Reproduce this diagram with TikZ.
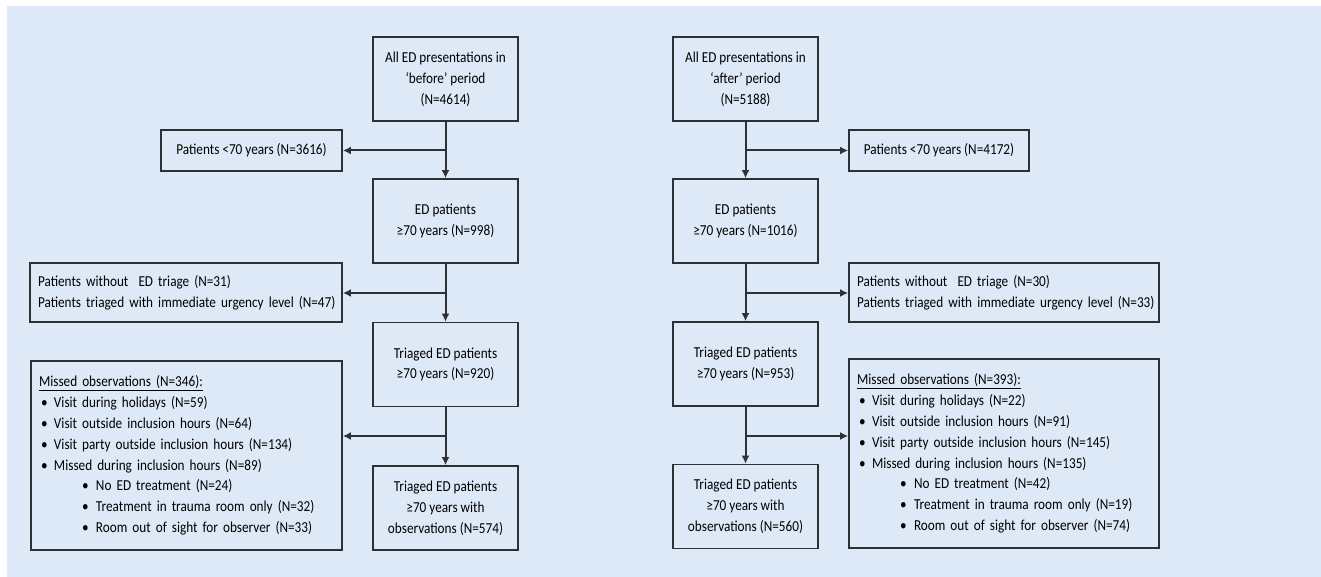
\documentclass[tikz,border=0pt]{standalone}
\usepackage{fontspec}
\setmainfont{Carlito}[FakeStretch=0.87]
\usetikzlibrary{arrows.meta}
\definecolor{bgblue}{HTML}{DDE9F6}
\definecolor{edge}{HTML}{2E3134}
\tikzset{
  box/.style={draw=edge, line width=1.8pt, inner sep=0pt, align=center, text=black, font=\fontsize{15.2}{20.8}\selectfont},
  mainbox/.style={box, minimum width=145pt, minimum height=84pt},
  sidebox/.style={box, align=left, inner xsep=8pt, inner ysep=0pt},
  conn/.style={draw=edge, line width=2pt, -{Latex[length=8pt,width=8pt]}},
}
\newcommand{\bl}{\makebox[15pt][l]{\hspace{2pt}•}}
\newcommand{\sbl}{\makebox[57pt][l]{\hspace{43pt}•}}
\begin{document}
\begin{tikzpicture}[x=1pt,y=-1pt]
\useasboundingbox (0,0) rectangle (1321,577);
\fill[bgblue] (7,6) rectangle (1321,577);

% left column
\node[mainbox] (a1) at (445.5,79) {All ED presentations in\\‘before’ period\\(N=4614)};
\node[mainbox] (a2) at (445.5,221) {ED patients\\≥70 years (N=998)};
\node[mainbox] (a3) at (445.5,364.5) {Triaged ED patients\\≥70 years (N=920)};
\node[mainbox] (a4) at (445.5,508) {Triaged ED patients\\≥70 years with\\observations (N=574)};

\node[box, minimum width=181pt, minimum height=41pt] (l1) at (251.5,150.5) {Patients <70 years (N=3616)};
\node[sidebox, text width=296pt, minimum height=59pt] (l2) at (186,292.5) {\mbox{Patients without~ ED triage (N=31)}\\\mbox{Patients triaged with immediate urgency level (N=47)}};
\node[sidebox, text width=295pt, minimum height=189pt] (l3) at (186.5,455.5) {\underline{Missed observations (N=346):}\\
\bl Visit during holidays (N=59)\\
\bl Visit outside inclusion hours (N=64)\\
\bl Visit party outside inclusion hours (N=134)\\
\bl Missed during inclusion hours (N=89)\\
\sbl No ED treatment (N=24)\\
\sbl Treatment in trauma room only (N=32)\\
\sbl Room out of sight for observer (N=33)};

% right column
\node[mainbox] (b1) at (745.5,79) {All ED presentations in\\‘after’ period\\(N=5188)};
\node[mainbox] (b2) at (745.5,221) {ED patients\\≥70 years (N=1016)};
\node[mainbox] (b3) at (745.5,364) {Triaged ED patients\\≥70 years (N=953)};
\node[mainbox] (b4) at (745.5,506.5) {Triaged ED patients\\≥70 years with\\observations (N=560)};

\node[box, minimum width=180pt, minimum height=41pt] (r1) at (939,150.5) {Patients <70 years (N=4172)};
\node[sidebox, text width=294pt, minimum height=59pt] (r2) at (1004,292.5) {\mbox{Patients without~ ED triage (N=30)}\\\mbox{Patients triaged with immediate urgency level (N=33)}};
\node[sidebox, text width=294pt, minimum height=189pt] (r3) at (1004,453.5) {\underline{Missed observations (N=393):}\\
\bl Visit during holidays (N=22)\\
\bl Visit outside inclusion hours (N=91)\\
\bl Visit party outside inclusion hours (N=145)\\
\bl Missed during inclusion hours (N=135)\\
\sbl No ED treatment (N=42)\\
\sbl Treatment in trauma room only (N=19)\\
\sbl Room out of sight for observer (N=74)};

% junctions
\coordinate (ja1) at (445.5,150.5);
\coordinate (ja2) at (445.5,293);
\coordinate (ja3) at (445.5,436);
\coordinate (jb1) at (745.5,150.5);
\coordinate (jb2) at (745.5,293);
\coordinate (jb3) at (745.5,436);

% connectors
\draw[conn] (a1) -- (a2);
\draw[conn] (a2) -- (a3);
\draw[conn] (a3) -- (a4);
\draw[conn] (ja1) -- (l1.east);
\draw[conn] (ja2) -- (ja2 -| l2.east);
\draw[conn] (ja3) -- (ja3 -| l3.east);

\draw[conn] (b1) -- (b2);
\draw[conn] (b2) -- (b3);
\draw[conn] (b3) -- (b4);
\draw[conn] (jb1) -- (r1.west);
\draw[conn] (jb2) -- (jb2 -| r2.west);
\draw[conn] (jb3) -- (jb3 -| r3.west);
\end{tikzpicture}
\end{document}
